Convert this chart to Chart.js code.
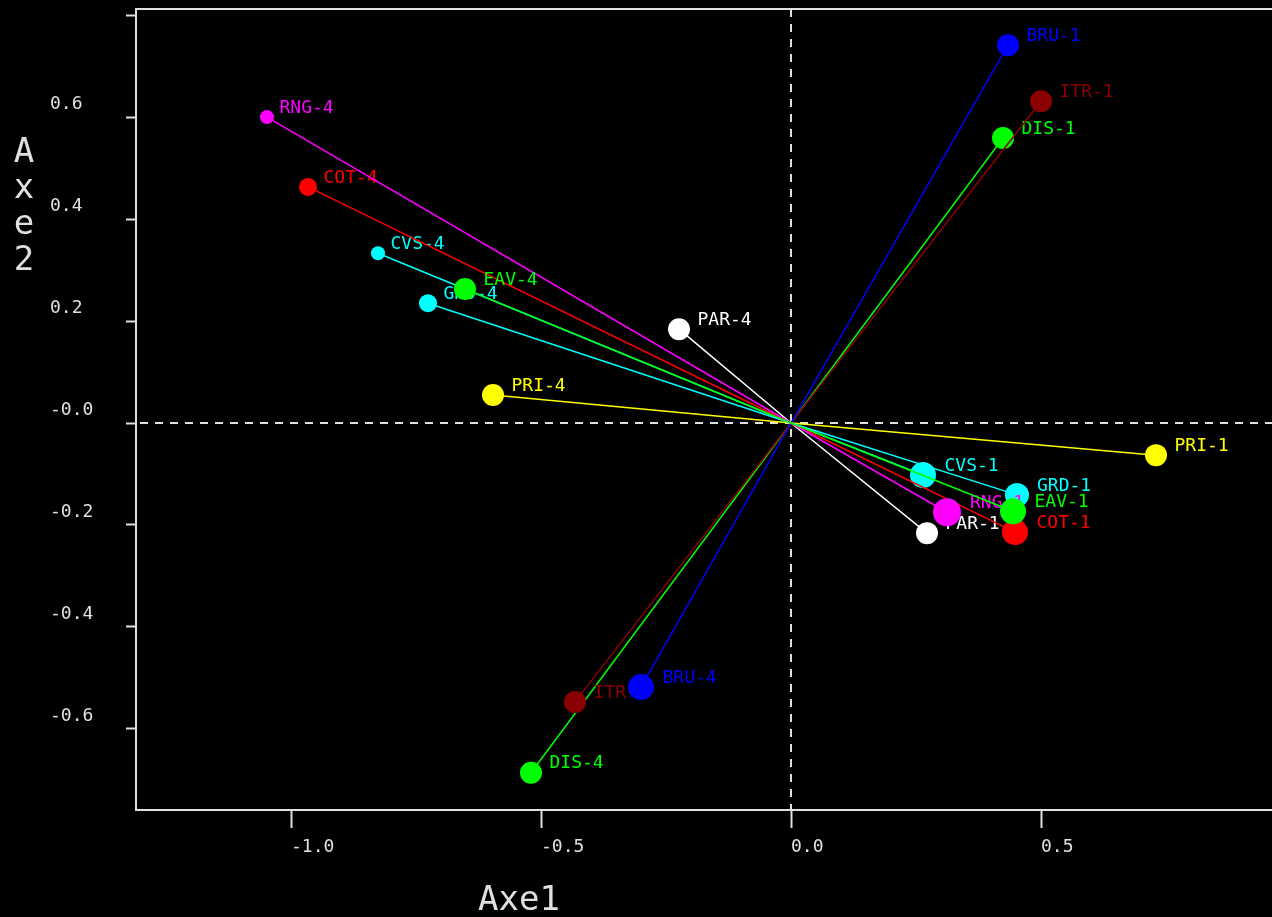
<!DOCTYPE html>
<html>
<head>
<meta charset="utf-8">
<title>Axe1 / Axe2</title>
<script src="https://cdn.jsdelivr.net/npm/chart.js@4.4.1/dist/chart.umd.min.js"></script>
<style>
    html, body { margin: 0; padding: 0; background: #000; overflow: hidden; }
    canvas { display: block; }
</style>
</head>
<body>
<canvas id="myChart" width="1272" height="917"></canvas>
<script>
// variables, listed in drawing order (the last one ends up on top)
const variables = ['PAR', 'PRI', 'DIS', 'ITR', 'BRU', 'CVS', 'GRD', 'COT', 'RNG', 'EAV'];
const seriesColors = ['#ffffff', '#ffff00', '#00ff00', '#8b0000', '#0000ff', '#00ffff', '#00ffff', '#ff0000', '#ff00ff', '#00ff00'];

// modality 1
const axe1Mod1 = [0.272, 0.730, 0.424, 0.500, 0.434, 0.264, 0.452, 0.448, 0.312, 0.444];
const axe2Mod1 = [-0.216, -0.063, 0.559, 0.631, 0.741, -0.102, -0.141, -0.214, -0.175, -0.173];
const sizeMod1 = [11, 11, 11, 11, 11, 13, 12, 13, 14, 13];

// modality 4
const axe1Mod4 = [-0.224, -0.596, -0.520, -0.432, -0.300, -0.826, -0.726, -0.966, -1.048, -0.652];
const axe2Mod4 = [0.184, 0.055, -0.686, -0.547, -0.518, 0.333, 0.235, 0.463, 0.600, 0.263];
const sizeMod4 = [11, 11, 11, 11, 13, 7, 9, 9, 7, 11];

const xTickValues = [-1.0, -0.5, 0.0, 0.5];
const xTickLabels = ['-1.0', '-0.5', '0.0', '0.5'];
const yTickValues = [-0.6, -0.4, -0.2, 0.0, 0.2, 0.4, 0.6, 0.8];
const yTickLabels = ['-0.6', '-0.4', '-0.2', '-0.0', '0.2', '0.4', '0.6', ''];

const AXIS_COLOR = '#e0e0e0';
const TICK_FONT = { family: '"DejaVu Sans Mono", monospace', size: 18 };
const LABEL_FONT = '18px "DejaVu Sans Mono", monospace';
const TITLE_FONT = '34px "DejaVu Sans Mono", monospace';


const datasets = variables.map((name, i) => ({
    label: name,
    data: [
        { x: axe1Mod4[i], y: axe2Mod4[i], tag: name + '-4' },
        { x: 0, y: 0, tag: '' },
        { x: axe1Mod1[i], y: axe2Mod1[i], tag: name + '-1' }
    ],
    showLine: true,
    borderColor: seriesColors[i],
    backgroundColor: seriesColors[i],
    borderWidth: 1.5,
    pointRadius: [sizeMod4[i], 0, sizeMod1[i]],
    pointHoverRadius: [sizeMod4[i], 0, sizeMod1[i]],
    pointBorderWidth: 0
})).reverse();   // chart.js paints dataset 0 last


// dashed lines through the origin + top frame line
const originLines = {
    id: 'originLines',
    beforeDatasetsDraw(chart) {
        const { ctx, chartArea, scales } = chart;
        const x0 = scales.x.getPixelForValue(0);
        const y0 = scales.y.getPixelForValue(0);
        ctx.save();
        ctx.strokeStyle = AXIS_COLOR;
        ctx.lineWidth = 2;
        ctx.beginPath();
        ctx.moveTo(chartArea.left, chartArea.top);
        ctx.lineTo(chartArea.right, chartArea.top);
        ctx.stroke();
        ctx.setLineDash([8, 7]);
        ctx.beginPath();
        ctx.moveTo(x0, chartArea.top);
        ctx.lineTo(x0, chartArea.bottom);
        ctx.moveTo(chartArea.left + 4, y0);
        ctx.lineTo(chartArea.right, y0);
        ctx.stroke();
        ctx.restore();
    }
};

// text next to each modality point, painted right after its own dataset
const pointLabels = {
    id: 'pointLabels',
    afterDatasetDraw(chart, args) {
        const ctx = chart.ctx;
        const ds = chart.data.datasets[args.index];
        ctx.save();
        ctx.font = LABEL_FONT;
        ctx.fillStyle = ds.borderColor;
        ctx.textBaseline = 'middle';
        ctx.textAlign = 'left';
        args.meta.data.forEach((pt, j) => {
            const tag = ds.data[j].tag;
            if (!tag) return;
            const r = ds.pointRadius[j];
            ctx.fillText(tag, pt.x + 1.5 * r + 2, pt.y - 9);
        });
        ctx.restore();
    }
};

// "Axe1" under the plot, "Axe2" stacked letter by letter on the left
const axisTitles = {
    id: 'axisTitles',
    afterDraw(chart) {
        const ctx = chart.ctx;
        ctx.save();
        ctx.font = TITLE_FONT;
        ctx.fillStyle = AXIS_COLOR;
        ctx.textBaseline = 'alphabetic';
        ctx.textAlign = 'left';
        ctx.fillText('Axe1', 478, 910);
        ctx.textAlign = 'center';
        'Axe2'.split('').forEach((ch, i) => {
            ctx.fillText(ch, 24, 162 + i * 36);
        });
        ctx.restore();
    }
};


const ctx = document.getElementById('myChart').getContext('2d');
new Chart(ctx, {
    type: 'scatter',
    data: { datasets },
    options: {
        responsive: false,
        animation: false,
        events: [],
        layout: {
            autoPadding: false,
            padding: { left: 50, top: 9, right: 0, bottom: 0 }
        },
        plugins: {
            legend: { display: false },
            tooltip: { enabled: false }
        },
        scales: {
            x: {
                type: 'linear',
                position: 'bottom',
                min: -1.31,
                max: 0.962,
                afterBuildTicks: scale => {
                    scale.ticks = xTickValues.map(v => ({ value: v }));
                },
                afterFit: scale => {
                    scale.height = 107;
                    scale.paddingLeft = 0;
                    scale.paddingRight = 0;
                },
                ticks: {
                    color: AXIS_COLOR,
                    font: TICK_FONT,
                    align: 'start',
                    padding: 9,
                    maxRotation: 0,
                    autoSkip: false,
                    callback: (v, i) => xTickLabels[i]
                },
                grid: {
                    drawOnChartArea: false,
                    drawTicks: true,
                    tickLength: 18,
                    tickWidth: 2,
                    color: AXIS_COLOR
                },
                border: { display: true, color: AXIS_COLOR, width: 2 }
            },
            y: {
                type: 'linear',
                position: 'left',
                min: -0.759,
                max: 0.812,
                afterBuildTicks: scale => {
                    scale.ticks = yTickValues.map(v => ({ value: v }));
                },
                afterFit: scale => {
                    scale.width = 86;
                    scale.paddingTop = 0;
                    scale.paddingBottom = 0;
                },
                ticks: {
                    color: AXIS_COLOR,
                    font: TICK_FONT,
                    crossAlign: 'far',
                    labelOffset: -13,
                    autoSkip: false,
                    callback: (v, i) => yTickLabels[i]
                },
                grid: {
                    drawOnChartArea: false,
                    drawTicks: true,
                    tickLength: 10,
                    tickWidth: 2,
                    color: AXIS_COLOR
                },
                border: { display: true, color: AXIS_COLOR, width: 2 }
            }
        }
    },
    plugins: [originLines, pointLabels, axisTitles]
});
</script>
</body>
</html>
